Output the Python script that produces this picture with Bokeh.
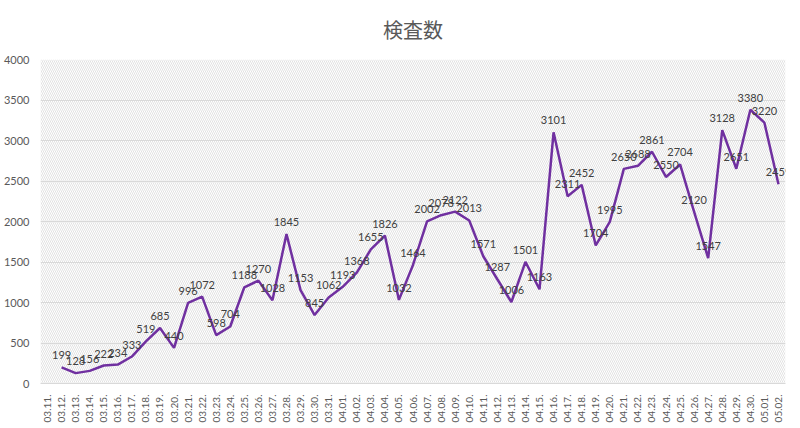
from bokeh.plotting import figure
from bokeh.models import FactorRange, Range1d, BoxAnnotation, ColumnDataSource, FixedTicker, Title, LabelSet
from bokeh.core.properties import value
from bokeh.embed import file_html
from bokeh.resources import INLINE

dates = ["03.11.", "03.12.", "03.13.", "03.14.", "03.15.", "03.16.", "03.17.", "03.18.", "03.19.", "03.20.",
         "03.21.", "03.22.", "03.23.", "03.24.", "03.25.", "03.26.", "03.27.", "03.28.", "03.29.", "03.30.",
         "03.31.", "04.01.", "04.02.", "04.03.", "04.04.", "04.05.", "04.06.", "04.07.", "04.08.", "04.09.",
         "04.10.", "04.11.", "04.12.", "04.13.", "04.14.", "04.15.", "04.16.", "04.17.", "04.18.", "04.19.",
         "04.20.", "04.21.", "04.22.", "04.23.", "04.24.", "04.25.", "04.26.", "04.27.", "04.28.", "04.29.",
         "04.30.", "05.01.", "05.02."]
# 03.11. has no value
tests = [199, 128, 156, 222, 234, 333, 519, 685, 440, 996,
         1072, 598, 704, 1188, 1270, 1028, 1845, 1153, 845, 1062,
         1193, 1368, 1655, 1826, 1032, 1464, 2002, 2078, 2122, 2013,
         1571, 1287, 1006, 1501, 1163, 3101, 2311, 2452, 1704, 1995,
         2650, 2688, 2861, 2550, 2704, 2120, 1547, 3128, 2651, 3380,
         3220, 2459]
y_ticks = [0, 500, 1000, 1500, 2000, 2500, 3000, 3500, 4000]
title_text = "検査数"

src = ColumnDataSource(dict(x=dates[1:], y=tests, t=[str(v) for v in tests]))

p = figure(width=800, height=428, output_backend="svg", toolbar_location=None,
           x_range=FactorRange(*dates, range_padding=0), y_range=Range1d(0, 4000),
           min_border_left=40, min_border_right=15, min_border_top=0, min_border_bottom=45)

p.title = Title(text=title_text, align="center", text_font="Noto Sans CJK JP",
                text_font_size="20px", text_color="#595959", text_font_style="normal",
                offset=0, standoff=28, text_line_height=1.0, vertical_align="top")
p.outline_line_color = None
p.background_fill_color = "white"

hatch = BoxAnnotation(fill_color="white", fill_alpha=0, line_color=None,
                      hatch_pattern="\\", hatch_color="#e2e2e2", hatch_scale=4, hatch_weight=1,
                      level="image")
p.add_layout(hatch)

p.line("x", "y", source=src, line_color="#7030A0", line_width=2.5)
labels = LabelSet(x="x", y="y", text="t", source=src, text_align="center", text_baseline="bottom",
                  y_offset=8, text_font_size="11px", text_color="#404040", text_font=value("Lato"))
p.add_layout(labels)

p.xgrid.grid_line_color = None
p.ygrid.grid_line_color = "#d9d9d9"
p.ygrid.ticker = FixedTicker(ticks=y_ticks)

p.yaxis.ticker = FixedTicker(ticks=y_ticks)
p.yaxis.axis_line_color = None
p.yaxis.major_tick_line_color = None
p.yaxis.minor_tick_line_color = None
p.yaxis.major_label_text_font_size = "11px"
p.yaxis.major_label_text_color = "#595959"
p.yaxis.major_label_text_font = "Lato"

p.xaxis.axis_line_color = "#d9d9d9"
p.xaxis.major_tick_line_color = None
p.xaxis.minor_tick_line_color = None
p.xaxis.major_label_orientation = 1.5708
p.xaxis.major_label_text_font_size = "10px"
p.xaxis.major_label_text_color = "#595959"
p.xaxis.major_label_text_font = "Lato"

open("out.html", "w").write(file_html(p, INLINE))
